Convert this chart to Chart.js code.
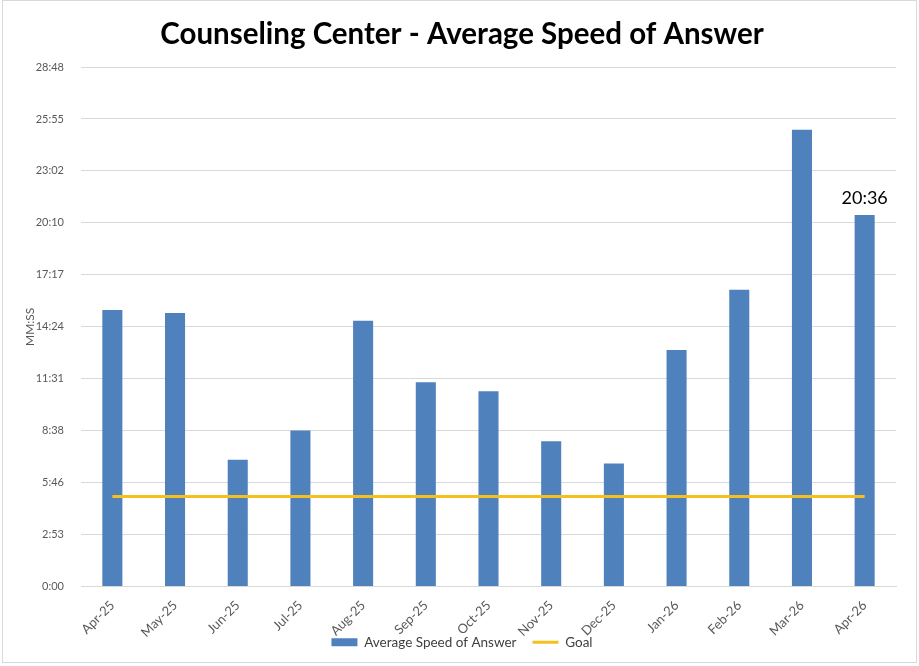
<!DOCTYPE html>
<html>
<head>
<meta charset="utf-8">
<title>Counseling Center - Average Speed of Answer</title>
<script src="https://cdn.jsdelivr.net/npm/chart.js@4.4.1/dist/chart.umd.min.js"></script>
<style>
  html, body { margin: 0; padding: 0; background: #fff; }
  #wrap { position: relative; width: 919px; height: 666px; }
</style>
</head>
<body>
<div id="wrap"><canvas id="asa-chart"></canvas></div>
<script>
// values are in seconds
const months = ["Apr-25", "May-25", "Jun-25", "Jul-25", "Aug-25", "Sep-25", "Oct-25",
  "Nov-25", "Dec-25", "Jan-26", "Feb-26", "Mar-26", "Apr-26"];
const speedSeconds = [920, 910, 422, 519, 884, 680, 650, 483, 409, 787, 987, 1519, 1236];
const goalSeconds = [300, 300, 300, 300, 300, 300, 300, 300, 300, 300, 300, 300, 300];
const yTickSeconds = [0, 172.8, 345.6, 518.4, 691.2, 864, 1036.8, 1209.6, 1382.4, 1555.2, 1728];
const labelledIndex = 12;

const FONT = "Lato, 'Open Sans', sans-serif";
const BAR_BLUE = "#4f81bd";
const GOAL_GOLD = "#f4c01e";
const GRID = "#d9d9d9";
const TICK_GREY = "#595959";

function toMMSS(sec) {
  const s = Math.round(sec);
  const m = Math.floor(s / 60);
  const r = s % 60;
  return m + ":" + String(r).padStart(2, "0");
}

// light frame round the whole chart, like the Excel chart area
const chartFrame = {
  id: "chartFrame",
  beforeDraw(chart) {
    const ctx = chart.ctx;
    ctx.save();
    ctx.fillStyle = "#fff";
    ctx.fillRect(0, 0, chart.width, chart.height);
    ctx.strokeStyle = GRID;
    ctx.lineWidth = 1;
    ctx.strokeRect(2.5, 0.5, chart.width - 5, chart.height - 4);
    ctx.restore();
  },
};

// single data label over the last bar
const lastValueLabel = {
  id: "lastValueLabel",
  afterDatasetsDraw(chart) {
    const meta = chart.getDatasetMeta(0);
    const bar = meta.data[labelledIndex];
    if (!bar) return;
    const ctx = chart.ctx;
    ctx.save();
    ctx.font = "18px " + FONT;
    ctx.fillStyle = "#000";
    ctx.textAlign = "center";
    ctx.textBaseline = "alphabetic";
    ctx.fillText(toMMSS(speedSeconds[labelledIndex]), bar.x, bar.y - 11);
    ctx.restore();
  },
};

const ctx = document.getElementById("asa-chart").getContext("2d");
new Chart(ctx, {
  type: "bar",
  data: {
    labels: months,
    datasets: [
      {
        label: "Average Speed of Answer",
        data: speedSeconds,
        backgroundColor: BAR_BLUE,
        borderWidth: 0,
        barPercentage: 0.32,
        categoryPercentage: 1,
        pointStyle: "rect",
        order: 2,
      },
      {
        type: "line",
        label: "Goal",
        data: goalSeconds,
        borderColor: GOAL_GOLD,
        backgroundColor: GOAL_GOLD,
        borderWidth: 3,
        pointRadius: 0,
        pointHoverRadius: 0,
        pointStyle: "line",
        fill: false,
        order: 1,
      },
    ],
  },
  options: {
    responsive: true,
    maintainAspectRatio: false,
    animation: false,
    layout: { padding: { left: 5, right: 0, top: 0, bottom: 6.9 } },
    plugins: {
      title: {
        display: true,
        text: "Counseling Center - Average Speed of Answer",
        color: "#000",
        font: { family: FONT, size: 29.5, weight: "bold", lineHeight: 1.2 },
        padding: { top: 17, bottom: 14.6 },
      },
      legend: {
        position: "bottom",
        labels: {
          usePointStyle: true,
          pointStyleWidth: 26,
          boxHeight: 8,
          padding: 16,
          color: "#404040",
          font: { family: FONT, size: 13.5 },
          sort: (a, b) => a.datasetIndex - b.datasetIndex,
        },
      },
      tooltip: { enabled: false },
    },
    scales: {
      x: {
        offset: true,
        grid: { display: false, drawTicks: false },
        border: { display: true, color: GRID },
        ticks: {
          autoSkip: false,
          minRotation: 45,
          maxRotation: 45,
          padding: 11,
          color: TICK_GREY,
          font: { family: FONT, size: 13 },
        },
        afterFit: (scale) => {
          // the slanted month labels reach down beside the legend, as in Excel,
          // so the axis box is kept short and its labels are not clipped to it
          scale.height = 33;
          scale._computeLabelArea = () => undefined;
        },
      },
      y: {
        min: 0,
        max: 1728,
        afterBuildTicks: (scale) => {
          scale.ticks = yTickSeconds.map((v) => ({ value: v }));
        },
        grid: { color: GRID, drawTicks: false },
        border: { display: false },
        ticks: {
          padding: 17,
          color: TICK_GREY,
          font: { family: FONT, size: 11 },
          callback: (value) => toMMSS(value),
        },
        title: {
          display: true,
          text: "MM:SS",
          color: TICK_GREY,
          font: { family: FONT, size: 12 },
          padding: { top: 18, bottom: 0 },
        },
        afterFit: (scale) => { scale.width = 76; },
      },
      y2: {
        position: "right",
        display: true,
        grid: { display: false },
        border: { display: false },
        ticks: { display: false },
        afterFit: (scale) => { scale.width = 23; },
      },
    },
  },
  plugins: [chartFrame, lastValueLabel],
});
</script>
</body>
</html>
